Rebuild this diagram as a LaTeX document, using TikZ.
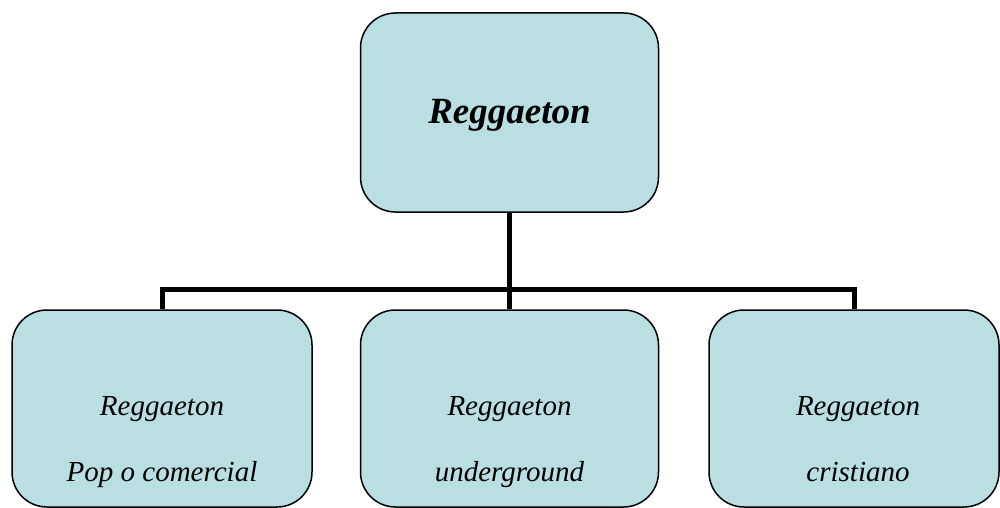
\documentclass[tikz,border=0pt]{standalone}
\usepackage{fontspec}
\setmainfont{Liberation Serif}
\usetikzlibrary{calc}
\definecolor{boxfill}{HTML}{B9DFE3}
\begin{document}
\begin{tikzpicture}[x=1pt,y=-1pt,
  box/.style={draw=black, line width=1.5pt, fill=boxfill, rounded corners=35pt,
    minimum height=197pt, inner sep=0pt},
  conn/.style={line width=5pt, line join=miter},
  toptext/.style={anchor=base, inner sep=0pt, font=\bfseries\itshape\fontsize{37}{44}\selectfont},
  subtext/.style={anchor=base, inner sep=0pt, font=\itshape\fontsize{29}{35}\selectfont}]
\useasboundingbox (0,0) rectangle (1000,508);
\node[box, minimum width=298pt, minimum height=199pt] (top) at (509.5,112.5) {};
\node[box, minimum width=300pt] (pop) at (162,408.5) {};
\node[box, minimum width=298pt] (und) at (509.5,408.5) {};
\node[box, minimum width=290pt] (cri) at (854,408.5) {};
\coordinate (bus) at (509.5,289);
\draw[conn] (top.south) -- (und.north);
\draw[conn] (pop.north) |- (bus) -| (cri.north);
\node[toptext] (t0) at ($(top.center)+(0,11.5)$) {Reggaeton};
\node[subtext] (t1a) at ($(pop.center)+(0,6.5)$) {Reggaeton};
\node[subtext] (t1b) at ($(pop.center)+(0,73)$) {Pop o comercial};
\node[subtext] (t2a) at ($(und.center)+(0,6.5)$) {Reggaeton};
\node[subtext] (t2b) at ($(und.center)+(0,73)$) {underground};
\node[subtext] (t3a) at ($(cri.center)+(4,6.5)$) {Reggaeton};
\node[subtext] (t3b) at ($(cri.center)+(4,73)$) {cristiano};
\end{tikzpicture}
\end{document}
